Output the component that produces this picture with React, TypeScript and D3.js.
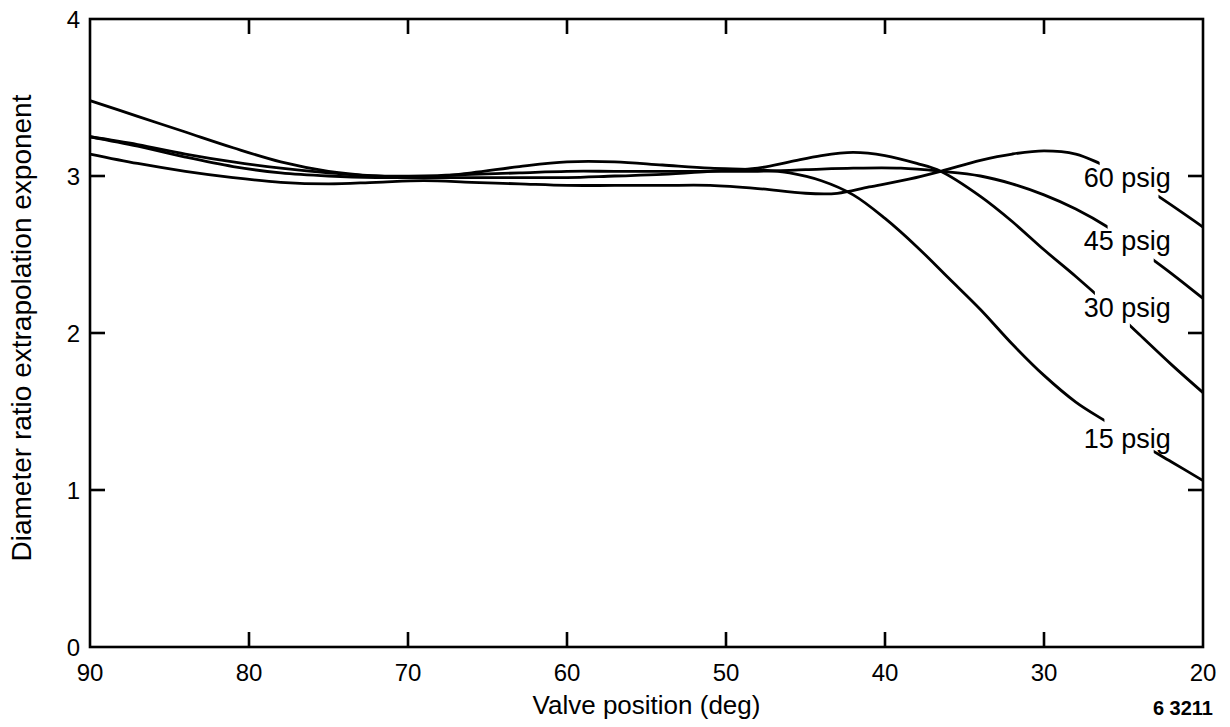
import React, { useEffect, useRef } from "react";
import * as d3 from "d3";

// Valve position in degrees (x) and the diameter-ratio extrapolation exponent (y)
const degrees15 = [90, 87, 84, 81, 78, 75, 72, 69, 66, 63, 60, 57, 54, 51, 48, 46, 44, 42, 40, 38, 36, 34, 32, 30, 28, 26, 24, 22, 20];
const exponent15 = [3.48, 3.38, 3.28, 3.18, 3.09, 3.03, 3.0, 2.99, 3.02, 3.06, 3.09, 3.09, 3.07, 3.05, 3.04, 3.02, 2.97, 2.88, 2.73, 2.55, 2.35, 2.15, 1.93, 1.73, 1.56, 1.43, 1.3, 1.18, 1.06];

const degrees30 = [90, 87, 84, 81, 78, 75, 72, 69, 66, 63, 60, 57, 54, 51, 48, 46, 44, 42, 40, 38, 36.5, 34, 32, 30, 28, 26, 24, 22, 20];
const exponent30 = [3.25, 3.19, 3.12, 3.06, 3.02, 3.0, 2.99, 2.99, 2.99, 2.99, 2.99, 3.0, 3.01, 3.03, 3.05, 3.09, 3.13, 3.15, 3.13, 3.08, 3.03, 2.87, 2.71, 2.53, 2.36, 2.18, 1.99, 1.8, 1.62];

const degrees45 = [90, 87, 84, 81, 78, 75, 72, 69, 66, 63, 60, 57, 54, 51, 48, 45, 42, 39, 36.5, 34, 32, 30, 28, 26, 24, 22, 20];
const exponent45 = [3.25, 3.2, 3.14, 3.09, 3.05, 3.02, 3.0, 3.0, 3.01, 3.02, 3.03, 3.03, 3.03, 3.03, 3.03, 3.04, 3.05, 3.05, 3.03, 3.0, 2.95, 2.88, 2.79, 2.675, 2.53, 2.38, 2.22];

const degrees60 = [90, 87, 84, 81, 78, 75, 72, 69, 66, 63, 60, 57, 54, 51, 48, 45, 43, 41, 38.5, 36.5, 34, 32, 30, 28, 26.5, 24.5, 22.8, 20];
const exponent60 = [3.14, 3.08, 3.03, 2.99, 2.96, 2.95, 2.96, 2.97, 2.96, 2.95, 2.94, 2.94, 2.94, 2.94, 2.92, 2.89, 2.89, 2.93, 2.98, 3.03, 3.1, 3.14, 3.16, 3.14, 3.08, 2.98, 2.87, 2.675];

const seriesNames = ["60 psig", "45 psig", "30 psig", "15 psig"];
// where each curve is broken to make room for its label (degrees)
const labelGapStart = [26.5, 26.0, 26.8, 26.2];
const labelGapEnd = [22.8, 23.1, 24.6, 23.1];
// label baseline, in exponent units
const labelBaseline = [2.93, 2.53, 2.1, 1.27];
const labelDegree = 27.5;

const xTicks = [90, 80, 70, 60, 50, 40, 30, 20];
const yTicks = [0, 1, 2, 3, 4];

const W = 1230;
const H = 727;
const margin = { left: 90, right: 27, top: 19, bottom: 80 };

export default function App() {
  const ref = useRef<SVGSVGElement | null>(null);

  useEffect(() => {
    document.body.style.margin = "0";
    const svg = d3.select(ref.current);
    svg.selectAll("*").remove();

    const x = d3.scaleLinear().domain([90, 20]).range([margin.left, W - margin.right]);
    const y = d3.scaleLinear().domain([0, 4]).range([H - margin.bottom, margin.top]);
    const font = "'Liberation Sans', Arial, Helvetica, sans-serif";

    const series = [
      { deg: degrees60, val: exponent60 },
      { deg: degrees45, val: exponent45 },
      { deg: degrees30, val: exponent30 },
      { deg: degrees15, val: exponent15 },
    ];

    const line = d3
      .line<[number, number]>()
      .x((d) => x(d[0]))
      .y((d) => y(d[1]))
      .curve(d3.curveCatmullRom.alpha(0.5));

    const defs = svg.append("defs");

    series.forEach((s, i) => {
      const id = `gap-${i}`;
      const m = defs.append("mask").attr("id", id).attr("maskUnits", "userSpaceOnUse");
      m.append("rect").attr("x", 0).attr("y", 0).attr("width", x(labelGapStart[i])).attr("height", H).attr("fill", "white");
      m.append("rect").attr("x", x(labelGapEnd[i])).attr("y", 0).attr("width", W - x(labelGapEnd[i])).attr("height", H).attr("fill", "white");

      const pts: [number, number][] = s.deg.map((d, k) => [d, s.val[k]]);
      svg
        .append("path")
        .attr("d", line(pts) as string)
        .attr("fill", "none")
        .attr("stroke", "#000")
        .attr("stroke-width", 2.8)
        .attr("mask", `url(#${id})`);

      svg
        .append("text")
        .attr("x", x(labelDegree))
        .attr("y", y(labelBaseline[i]))
        .attr("font-family", font)
        .attr("font-size", 27)
        .attr("fill", "#000")
        .text(seriesNames[i]);
    });

    // frame
    svg
      .append("rect")
      .attr("x", x(90))
      .attr("y", y(4))
      .attr("width", x(20) - x(90))
      .attr("height", y(0) - y(4))
      .attr("fill", "none")
      .attr("stroke", "#000")
      .attr("stroke-width", 2.6);

    // inward ticks on all four sides
    const tickLen = 15;
    xTicks.slice(1, -1).forEach((t) => {
      svg.append("line").attr("x1", x(t)).attr("x2", x(t)).attr("y1", y(0)).attr("y2", y(0) - tickLen).attr("stroke", "#000").attr("stroke-width", 2.6);
      svg.append("line").attr("x1", x(t)).attr("x2", x(t)).attr("y1", y(4)).attr("y2", y(4) + tickLen).attr("stroke", "#000").attr("stroke-width", 2.6);
    });
    yTicks.slice(1, -1).forEach((t) => {
      svg.append("line").attr("x1", x(90)).attr("x2", x(90) + tickLen).attr("y1", y(t)).attr("y2", y(t)).attr("stroke", "#000").attr("stroke-width", 2.6);
      svg.append("line").attr("x1", x(20)).attr("x2", x(20) - tickLen).attr("y1", y(t)).attr("y2", y(t)).attr("stroke", "#000").attr("stroke-width", 2.6);
    });

    // tick labels
    xTicks.forEach((t) => {
      svg
        .append("text")
        .attr("x", x(t))
        .attr("y", y(0) + 34)
        .attr("text-anchor", "middle")
        .attr("font-family", font)
        .attr("font-size", 24)
        .text(String(t));
    });
    yTicks.forEach((t) => {
      svg
        .append("text")
        .attr("x", x(90) - 10)
        .attr("y", y(t))
        .attr("dy", "0.36em")
        .attr("text-anchor", "end")
        .attr("font-family", font)
        .attr("font-size", 24)
        .text(String(t));
    });

    // axis titles
    svg
      .append("text")
      .attr("x", (x(90) + x(20)) / 2)
      .attr("y", 714)
      .attr("text-anchor", "middle")
      .attr("font-family", font)
      .attr("font-size", 26)
      .text("Valve position (deg)");
    svg
      .append("text")
      .attr("transform", `translate(31, ${(y(0) + y(4)) / 2 - 5}) rotate(-90)`)
      .attr("text-anchor", "middle")
      .attr("font-family", font)
      .attr("font-size", 28)
      .text("Diameter ratio extrapolation exponent");

    svg
      .append("text")
      .attr("x", 1213)
      .attr("y", 715)
      .attr("text-anchor", "end")
      .attr("font-family", font)
      .attr("font-weight", "bold")
      .attr("font-size", 20)
      .text("6 3211");
  }, []);

  return (
    <div style={{ position: "absolute", left: 0, top: 0 }}>
      <svg ref={ref} width={W} height={H} style={{ display: "block", background: "#fff" }} />
    </div>
  );
}
